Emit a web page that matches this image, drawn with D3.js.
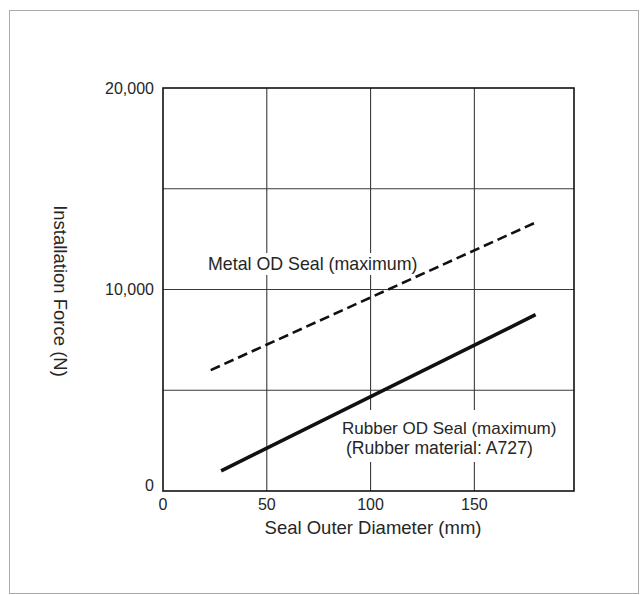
<!DOCTYPE html>
<html>
<head>
<meta charset="utf-8">
<script src="https://cdn.jsdelivr.net/npm/d3@7"></script>
<style>
body { margin: 0; background: #fff; }
text { font-family: "Liberation Sans", Arial, sans-serif; fill: #262626; }
</style>
</head>
<body>
<svg width="644" height="595"></svg>
<script>
// values
var xTicks = [0, 50, 100, 150];
var xGrid = [50, 100, 150];
var yTicks = [0, 10000, 20000];
var yGrid = [5000, 10000, 15000];
var metalDiameter = [23, 179];
var metalForce = [6000, 13300];
var rubberDiameter = [28, 179.5];
var rubberForce = [1000, 8750];

var svg = d3.select("svg");

// outer frame of the figure
svg.append("rect")
  .attr("x", 9.5).attr("y", 10.5)
  .attr("width", 629).attr("height", 583)
  .attr("fill", "none")
  .attr("stroke", "#aaa");

var xScale = d3.scaleLinear().domain([0, 198]).range([163, 574]);
var yScale = d3.scaleLinear().domain([0, 20000]).range([491, 88]);

// grid
svg.selectAll(".vgrid").data(xGrid).enter().append("line")
  .attr("x1", function(d){ return xScale(d); })
  .attr("x2", function(d){ return xScale(d); })
  .attr("y1", yScale(0)).attr("y2", yScale(20000))
  .attr("stroke", "#3a3a3a").attr("stroke-width", 1.1);

svg.selectAll(".hgrid").data(yGrid).enter().append("line")
  .attr("x1", xScale(0)).attr("x2", xScale(198))
  .attr("y1", function(d){ return yScale(d); })
  .attr("y2", function(d){ return yScale(d); })
  .attr("stroke", "#3a3a3a").attr("stroke-width", 1.1);

// white backing behind the labels (gridlines are broken there)
svg.append("rect")
  .attr("x", 205).attr("y", 253).attr("width", 218).attr("height", 22)
  .attr("fill", "#fff");
svg.append("rect")
  .attr("x", 338).attr("y", 410).attr("width", 222).attr("height", 52)
  .attr("fill", "#fff");

// plot border
svg.append("rect")
  .attr("x", xScale(0)).attr("y", yScale(20000))
  .attr("width", xScale(198) - xScale(0))
  .attr("height", yScale(0) - yScale(20000))
  .attr("fill", "none")
  .attr("stroke", "#111").attr("stroke-width", 1.6);

// tick labels
svg.selectAll(".xlab").data(xTicks).enter().append("text")
  .attr("x", function(d){ return xScale(d); })
  .attr("y", 510)
  .attr("text-anchor", "middle")
  .attr("font-size", 16)
  .text(function(d){ return d; });

svg.selectAll(".ylab").data(yTicks).enter().append("text")
  .attr("x", 154)
  .attr("y", function(d){ return yScale(d) - (d == 0 ? 6 : 0); })
  .attr("dy", "0.35em")
  .attr("text-anchor", "end")
  .attr("font-size", 16)
  .text(function(d){ return d3.format(",")(d); });

// axis titles
svg.append("text")
  .attr("x", 373).attr("y", 534)
  .attr("text-anchor", "middle")
  .attr("font-size", 18.5)
  .text("Seal Outer Diameter (mm)");

svg.append("text")
  .attr("transform", "translate(60,291) rotate(90)")
  .attr("dy", "0.35em")
  .attr("text-anchor", "middle")
  .attr("font-size", 18.5)
  .text("Installation Force (N)");

// series
var line = d3.line()
  .x(function(d){ return xScale(d[0]); })
  .y(function(d){ return yScale(d[1]); });

svg.append("path")
  .datum(d3.zip(metalDiameter, metalForce))
  .attr("d", line)
  .attr("fill", "none")
  .attr("stroke", "#111")
  .attr("stroke-width", 2.6)
  .attr("stroke-dasharray", "10,5");

svg.append("path")
  .datum(d3.zip(rubberDiameter, rubberForce))
  .attr("d", line)
  .attr("fill", "none")
  .attr("stroke", "#111")
  .attr("stroke-width", 3.6);

// series labels
svg.append("text")
  .attr("x", 208).attr("y", 270)
  .attr("font-size", 17.8)
  .text("Metal OD Seal (maximum)");

svg.append("text")
  .attr("x", 342).attr("y", 434)
  .attr("font-size", 17)
  .text("Rubber OD Seal (maximum)");
svg.append("text")
  .attr("x", 346).attr("y", 454)
  .attr("font-size", 17.6)
  .text("(Rubber material: A727)");
</script>
</body>
</html>
